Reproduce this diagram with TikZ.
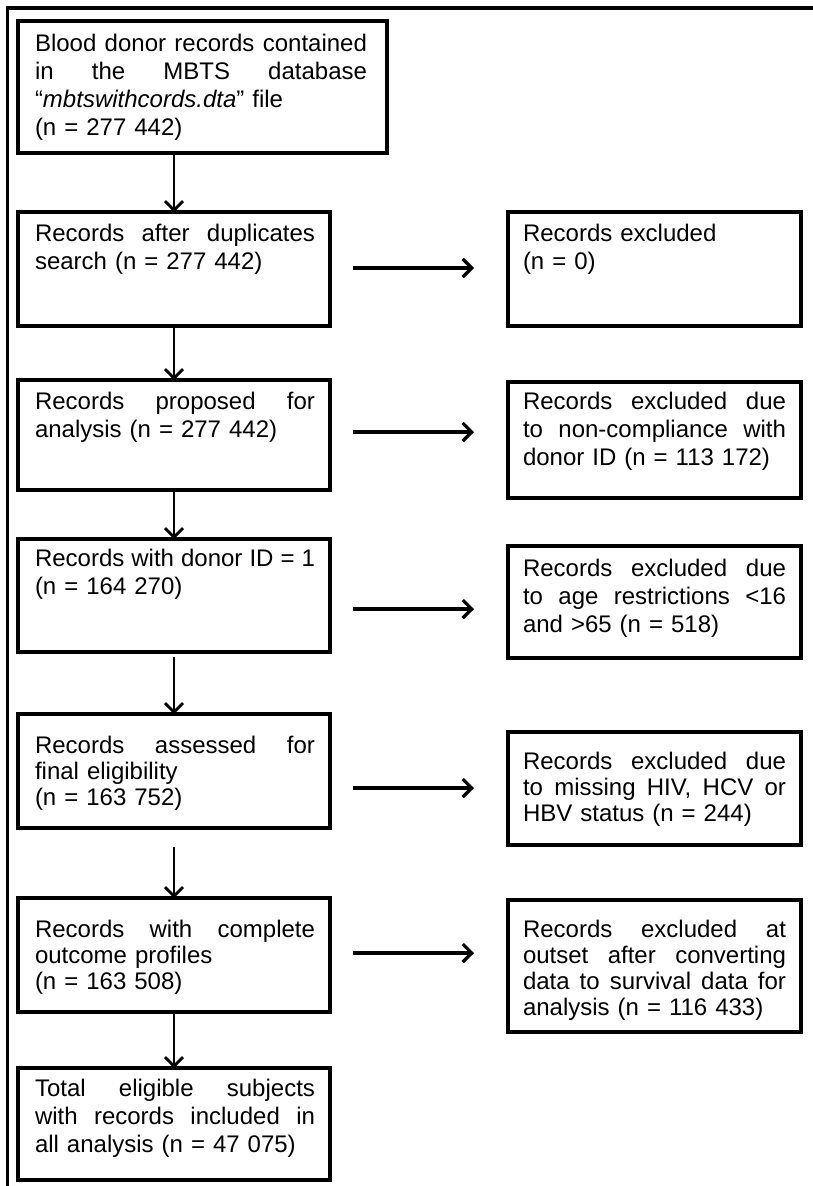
\documentclass[tikz,border=0pt]{standalone}
\usepackage{fontspec}
\setmainfont{Liberation Sans}
\usetikzlibrary{arrows.meta,calc}
\newcommand{\JL}[2][280pt]{\leavevmode\hbox to #1{#2}}
\newcommand{\gp}{\hfill}
\begin{document}
\begin{tikzpicture}[x=1pt,y=-1pt,
  box/.style={draw, line width=3.2pt, rectangle, inner sep=0pt, outer sep=0pt, anchor=north west},
  lbox/.style={box, minimum width=312pt},
  rbox/.style={box, minimum width=293pt},
  txt/.style={inner sep=0pt, outer sep=0pt, anchor=north west, align=left,
    font=\fontsize{24}{28}\selectfont},
  tight/.style={font=\fontsize{24}{26}\selectfont},
  ltxt/.style={txt, text width=282pt},
  rtxt/.style={txt, text width=265pt},
  varrow/.style={line width=2.8pt, -{Straight Barb[length=9pt,width=18pt]}},
  harrow/.style={line width=3.2pt, -{Straight Barb[length=9pt,width=18pt]}, shorten <=23pt, shorten >=34pt}]

\useasboundingbox (0,0) rectangle (813,1186);
% outer frame (top and left edges)
\draw[line width=3.5pt] (7.7,1190) -- (7.7,8) -- (816,8);

% left column boxes
\node[box, minimum width=369pt, minimum height=132pt] (b1) at (18,21) {};
\node[lbox, minimum height=114pt] (b2) at (18,212) {};
\node[lbox, minimum height=110pt] (b3) at (18,380) {};
\node[lbox, minimum height=113pt] (b4) at (18,539) {};
\node[lbox, minimum height=114pt] (b5) at (18,714) {};
\node[lbox, minimum height=114pt] (b6) at (18,898) {};
\node[lbox, minimum height=112pt] (b7) at (18,1068) {};

% right column boxes
\node[rbox, minimum height=114pt] (r1) at (508,212) {};
\node[rbox, minimum height=116pt] (r2) at (508,382) {};
\node[rbox, minimum height=112pt] (r3) at (508,546) {};
\node[rbox, minimum height=113pt] (r4) at (508,732) {};
\node[rbox, minimum height=132pt] (r5) at (508,900) {};

% texts
\node[txt, text width=334pt] (b1t) at (35,34.5)
  {\JL[332pt]{Blood\gp donor\gp records\gp contained}\\\JL[332pt]{in\gp the\gp MBTS\gp database}\\“\textit{mbtswithcords.dta}” file\\(n = 277 442)};
\node[ltxt] (b2t) at (35,224.5) {\JL{Records\gp after\gp duplicates}\\search (n = 277 442)};
\node[ltxt] (b3t) at (35,392.5) {\JL{Records\gp proposed\gp for}\\analysis (n = 277 442)};
\node[ltxt] (b4t) at (35,549.5) {\JL{Records\gp with\gp donor\gp ID\gp =\gp 1}\\(n = 164 270)};
\node[ltxt, tight] (b5t) at (35,736.5) {\JL{Records\gp assessed\gp for}\\final eligibility\\(n = 163 752)};
\node[ltxt, tight] (b6t) at (35,920.5) {\JL{Records\gp with\gp complete}\\outcome profiles\\(n = 163 508)};
\node[ltxt] (b7t) at (35,1079.5) {\JL{Total\gp eligible\gp subjects}\\\JL{with\gp records\gp included\gp in}\\all analysis (n = 47 075)};

\node[rtxt] (r1t) at (523,224.5) {Records excluded\\(n = 0)};
\node[rtxt] (r2t) at (523,392.5) {\JL[263pt]{Records\gp excluded\gp due}\\\JL[263pt]{to\gp non-compliance\gp with}\\donor ID (n = 113 172)};
\node[rtxt] (r3t) at (523,559.5) {\JL[263pt]{Records\gp excluded\gp due}\\\JL[263pt]{to\gp age\gp restrictions\gp <16}\\and >65 (n = 518)};
\node[rtxt, tight] (r4t) at (523,752.5) {\JL[263pt]{Records\gp excluded\gp due}\\\JL[263pt]{to\gp missing\gp HIV,\gp HCV\gp or}\\HBV status (n = 244)};
\node[rtxt, tight] (r5t) at (523,920.5) {\JL[263pt]{Records\gp excluded\gp at}\\\JL[263pt]{outset\gp after\gp converting}\\\JL[263pt]{data\gp to\gp survival\gp data\gp for}\\analysis (n = 116 433)};

% vertical arrows
\draw[varrow] (b2.north |- b1.south) -- (b2.north);
\draw[varrow] (b2.south) -- (b3.north);
\draw[varrow] (b3.south) -- (b4.north);
\draw[varrow, shorten <=5pt] (b4.south) -- (b5.north);
\draw[varrow, shorten <=19pt] (b5.south) -- (b6.north);
\draw[varrow] (b6.south) -- (b7.north);

% horizontal arrows
\coordinate (h1) at ([yshift=1pt]b2.east);
\coordinate (h2) at ([yshift=3pt]b3.east);
\coordinate (h3) at ([yshift=-13.5pt]b4.east);
\coordinate (h4) at ([yshift=-17pt]b5.east);
\coordinate (h5) at ([yshift=2pt]b6.east);
\draw[harrow] (h1) -- (h1 -| r1.west);
\draw[harrow] (h2) -- (h2 -| r2.west);
\draw[harrow] (h3) -- (h3 -| r3.west);
\draw[harrow] (h4) -- (h4 -| r4.west);
\draw[harrow] (h5) -- (h5 -| r5.west);
\end{tikzpicture}
\end{document}
